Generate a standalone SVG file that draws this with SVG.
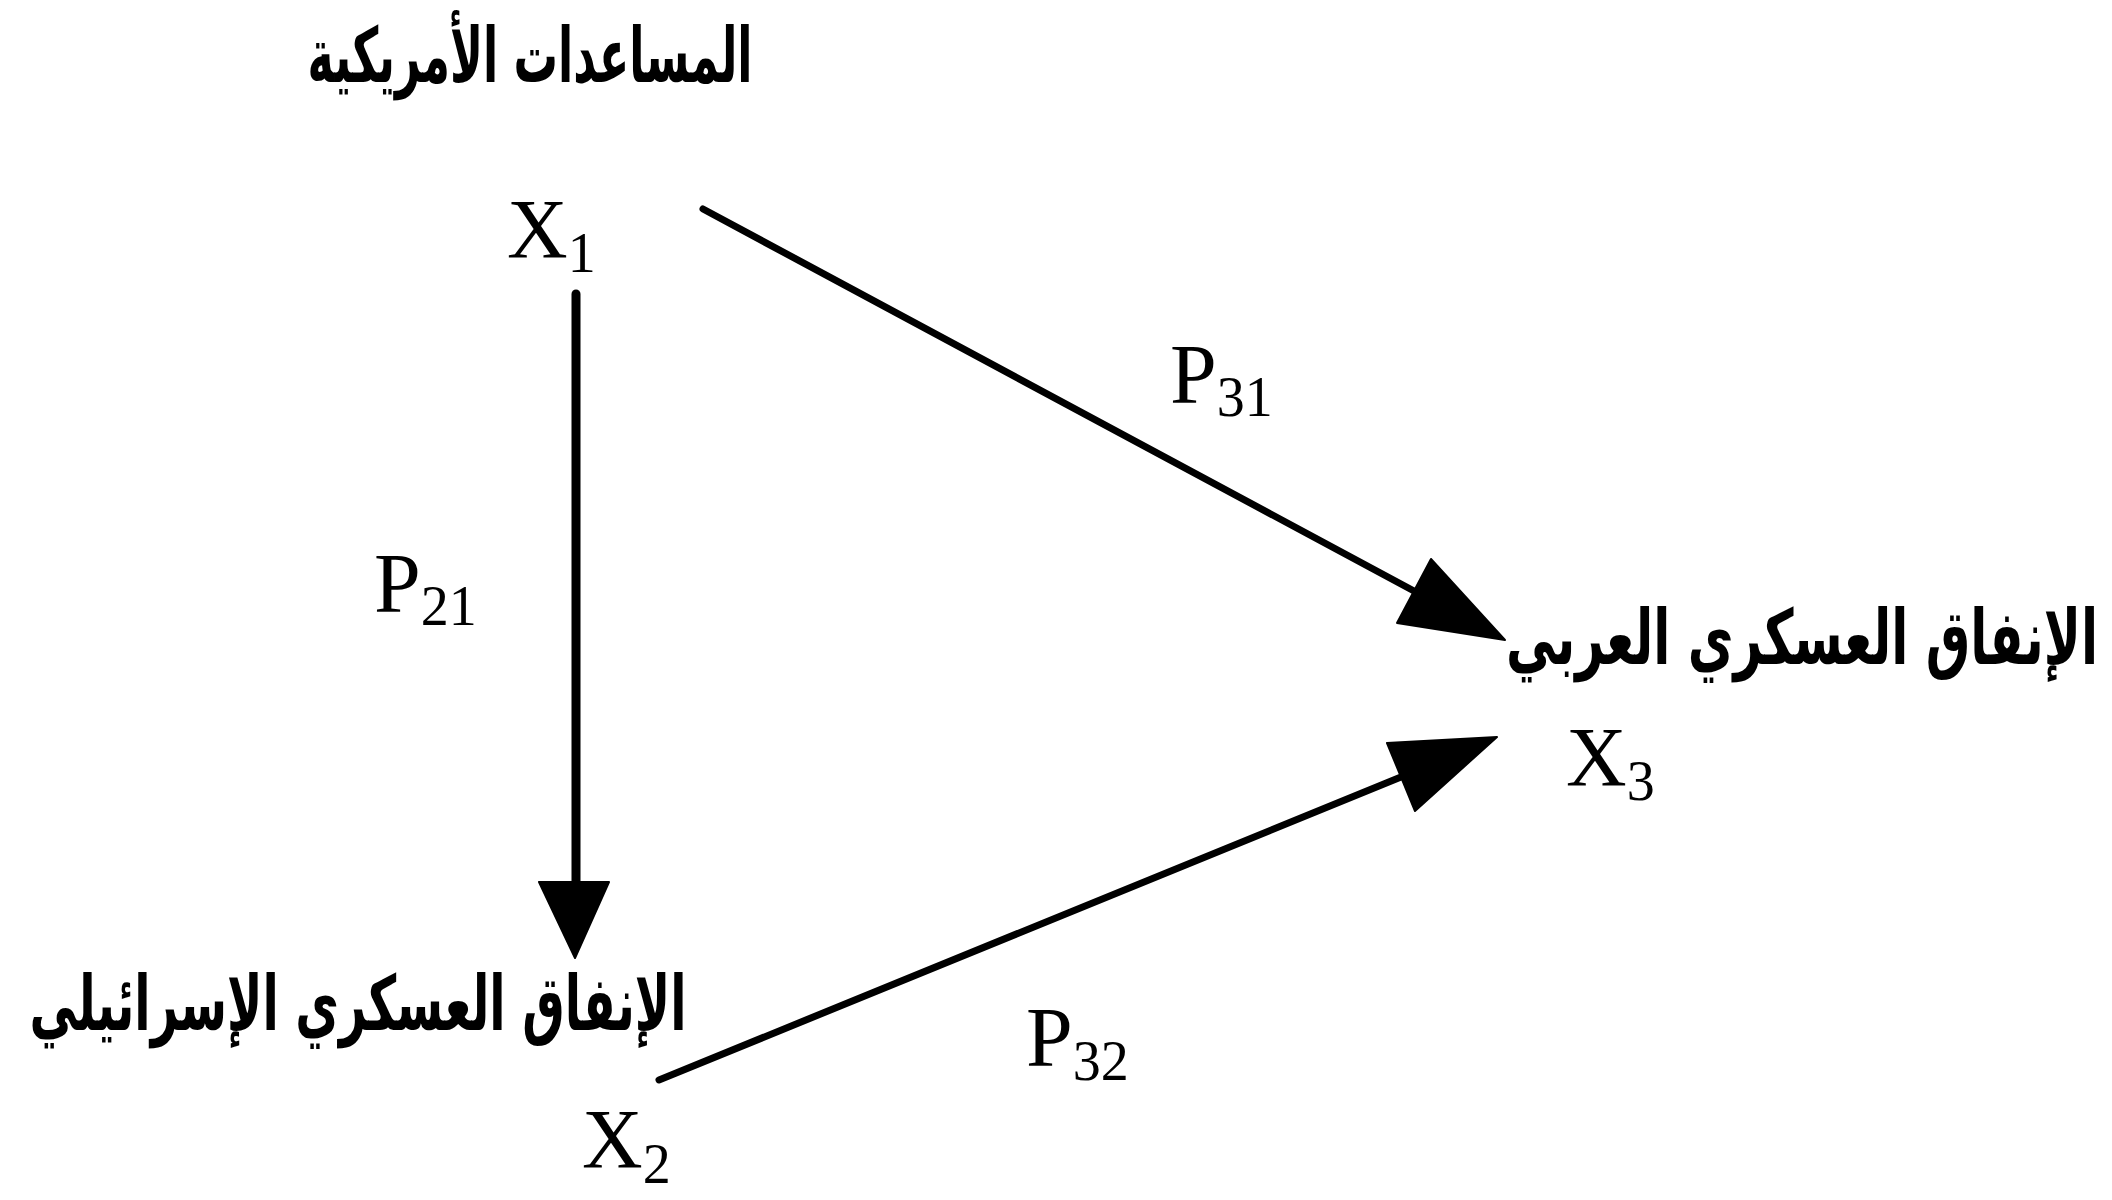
<svg xmlns="http://www.w3.org/2000/svg" width="2112" height="1200" viewBox="0 0 2112 1200">
<style>
.ar{font-family:"DejaVu Sans","Noto Sans",sans-serif;font-size:76px;font-weight:bold;fill:#000;text-anchor:middle}
.v{font-family:"Liberation Serif","Times New Roman",serif;font-size:84px;fill:#000}
.s{font-size:56px}
.ln{stroke:#000;stroke-width:7;fill:none;stroke-linecap:round}
.hd{fill:#000;stroke:#000;stroke-width:2;stroke-linejoin:round}
</style>
<rect width="2112" height="1200" fill="#fff"/>
<g id="node-x1">
<text class="ar" x="530" y="82" textLength="445" lengthAdjust="spacingAndGlyphs">المساعدات الأمريكية</text>
<text class="v" x="507" y="258">X<tspan class="s" y="272">1</tspan></text>
</g>
<g id="node-x2">
<text class="ar" x="358" y="1030" textLength="657" lengthAdjust="spacingAndGlyphs">الإنفاق العسكري الإسرائيلي</text>
<text class="v" x="582" y="1168">X<tspan class="s" y="1183">2</tspan></text>
</g>
<g id="node-x3">
<text class="ar" x="1802" y="664" textLength="592" lengthAdjust="spacingAndGlyphs">الإنفاق العسكري العربي</text>
<text class="v" x="1566" y="786">X<tspan class="s" y="800">3</tspan></text>
</g>
<g id="connectors">
<line class="ln" x1="703" y1="209" x2="1414" y2="591"/>
<polygon class="hd" points="1431,559 1505,640 1397,623"/>
<line class="ln" x1="576" y1="294" x2="576" y2="884" style="stroke-width:9"/>
<polygon class="hd" points="539,882 609,882 575,958"/>
<line class="ln" x1="659" y1="1080" x2="1401" y2="777"/>
<polygon class="hd" points="1387,743 1497,737 1415,811"/>
</g>
<g id="labels">
<text class="v" x="1170" y="403">P<tspan class="s" y="416">31</tspan></text>
<text class="v" x="374" y="612">P<tspan class="s" y="625">21</tspan></text>
<text class="v" x="1026" y="1066">P<tspan class="s" y="1080">32</tspan></text>
</g>
</svg>
